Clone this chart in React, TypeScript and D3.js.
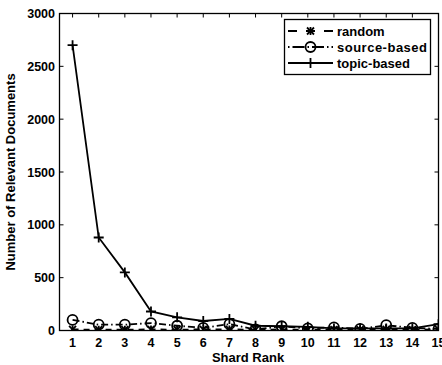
import React from 'react';
import * as d3 from 'd3';

const ranks = [1, 2, 3, 4, 5, 6, 7, 8, 9, 10, 11, 12, 13, 14, 15];
const randomVals = [10, 8, 8, 10, 8, 10, 10, 8, 10, 8, 8, 8, 10, 8, 10];
const sourceVals = [100, 55, 55, 70, 45, 25, 60, 10, 40, 20, 30, 15, 50, 25, 15];
const topicVals = [2700, 880, 550, 180, 125, 90, 110, 45, 40, 35, 20, 20, 20, 20, 60];
const yTicks = [0, 500, 1000, 1500, 2000, 2500, 3000];

const series = [
  { name: 'random', values: randomVals, dash: '6,5', marker: 'star' },
  { name: 'source-based', values: sourceVals, dash: '7,3,1.5,3', marker: 'circle' },
  { name: 'topic-based', values: topicVals, dash: null, marker: 'plus' },
];

function Marker({ type, x, y }: { type: string; x: number; y: number }) {
  if (type === 'circle') {
    return <circle cx={x} cy={y} r={5} fill="none" stroke="#000" strokeWidth={1.8} />;
  }
  if (type === 'plus') {
    return (
      <g stroke="#000" strokeWidth={1.8}>
        <line x1={x - 5} x2={x + 5} y1={y} y2={y} />
        <line x1={x} x2={x} y1={y - 5} y2={y + 5} />
      </g>
    );
  }
  return (
    <g stroke="#000" strokeWidth={1.8}>
      <line x1={x - 3.5} x2={x + 3.5} y1={y - 3.5} y2={y + 3.5} />
      <line x1={x - 3.5} x2={x + 3.5} y1={y + 3.5} y2={y - 3.5} />
      <line x1={x} x2={x} y1={y - 4} y2={y + 4} />
    </g>
  );
}

export default function App() {
  const width = 442;
  const height = 365;
  const left = 59.5, right = 438.5, top = 13.5, bottom = 330.5;

  const x = d3.scaleLinear().domain([0.5, 15]).range([left, right]);
  const y = d3.scaleLinear().domain([0, 3000]).range([bottom, top]);

  const line = d3.line<number>()
    .x((_, i) => x(ranks[i]))
    .y(d => y(d));

  const font = 'Liberation Sans, Arial, sans-serif';

  return (
    <svg width={width} height={height} style={{ position: 'absolute', left: 0, top: 0, background: '#fff' }}
      fontFamily={font} fontWeight="bold">
      <defs>
        <clipPath id="plot">
          <rect x={left} y={top} width={right - left} height={bottom - top} />
        </clipPath>
      </defs>
      <rect x={left} y={top} width={right - left} height={bottom - top} fill="#fff" stroke="#000" strokeWidth={1.3} />
      {ranks.map(r => (
        <g key={r} stroke="#000" strokeWidth={1}>
          <line x1={x(r)} x2={x(r)} y1={bottom} y2={bottom - 4} />
          <line x1={x(r)} x2={x(r)} y1={top} y2={top + 4} />
        </g>
      ))}
      {yTicks.map(t => (
        <g key={t} stroke="#000" strokeWidth={1}>
          <line x1={left} x2={left + 4} y1={y(t)} y2={y(t)} />
          <line x1={right} x2={right - 4} y1={y(t)} y2={y(t)} />
        </g>
      ))}
      {ranks.map(r => (
        <text key={r} x={x(r)} y={347} textAnchor="middle" fontSize={12.5}>{r}</text>
      ))}
      {yTicks.map(t => (
        <text key={t} x={55} y={y(t) + 4.5} textAnchor="end" fontSize={12.5}>{t}</text>
      ))}
      <text x={248} y={362} textAnchor="middle" fontSize={13}>Shard Rank</text>
      <text transform={`translate(15, ${(top + bottom) / 2}) rotate(-90)`} textAnchor="middle" fontSize={13}>
        Number of Relevant Documents
      </text>
      <g clipPath="url(#plot)">
        {series.map(s => (
          <g key={s.name}>
            <path d={line(s.values) || ''} fill="none" stroke="#000" strokeWidth={1.8}
              strokeDasharray={s.dash || undefined} />
            {s.values.map((v, i) => (
              <Marker key={i} type={s.marker} x={x(ranks[i])} y={y(v)} />
            ))}
          </g>
        ))}
      </g>
      <rect x={284.5} y={19.5} width={146} height={55} fill="#fff" stroke="#000" strokeWidth={1.3} />
      {series.map((s, i) => {
        const ly = 31 + i * 16;
        return (
          <g key={s.name}>
            <line x1={288} x2={333} y1={ly} y2={ly} stroke="#000" strokeWidth={1.8}
              strokeDasharray={s.dash ? (s.marker === 'star' ? '9,9' : '1.5,3,12,3') : undefined} />
            <Marker type={s.marker} x={310.5} y={ly} />
            <text x={337} y={ly + 4.5} fontSize={13} textLength={s.name === 'source-based' ? 90 : undefined}>{s.name}</text>
          </g>
        );
      })}
    </svg>
  );
}
